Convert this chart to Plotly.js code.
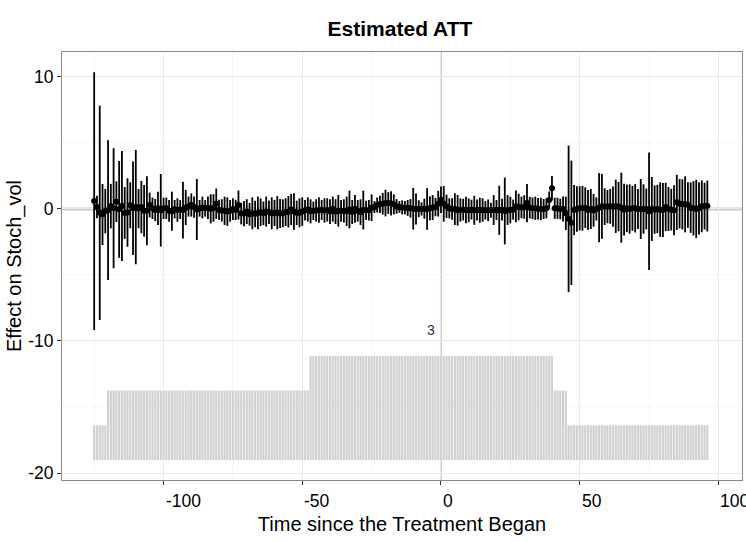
<!DOCTYPE html>
<html>
<head>
<meta charset="utf-8">
<script src="https://cdn.plot.ly/plotly-3.0.1.min.js"></script>
<style>html,body{margin:0;padding:0;background:#fff;}#chart{width:746px;height:542px;}</style>
</head>
<body>
<div id="chart"></div>
<script>
// Time since the treatment began
const time = [
 -125,-124,-123,-122,-121,-120,-119,-118,-117,-116,
 -115,-114,-113,-112,-111,-110,-109,-108,-107,-106,
 -105,-104,-103,-102,-101,-100,-99,-98,-97,-96,
 -95,-94,-93,-92,-91,-90,-89,-88,-87,-86,
 -85,-84,-83,-82,-81,-80,-79,-78,-77,-76,
 -75,-74,-73,-72,-71,-70,-69,-68,-67,-66,
 -65,-64,-63,-62,-61,-60,-59,-58,-57,-56,
 -55,-54,-53,-52,-51,-50,-49,-48,-47,-46,
 -45,-44,-43,-42,-41,-40,-39,-38,-37,-36,
 -35,-34,-33,-32,-31,-30,-29,-28,-27,-26,
 -25,-24,-23,-22,-21,-20,-19,-18,-17,-16,
 -15,-14,-13,-12,-11,-10,-9,-8,-7,-6,
 -5,-4,-3,-2,-1,0,1,2,3,4,
 5,6,7,8,9,10,11,12,13,14,
 15,16,17,18,19,20,21,22,23,24,
 25,26,27,28,29,30,31,32,33,34,
 35,36,37,38,39,40,41,42,43,44,
 45,46,47,48,49,50,51,52,53,54,
 55,56,57,58,59,60,61,62,63,64,
 65,66,67,68,69,70,71,72,73,74,
 75,76,77,78,79,80,81,82,83,84,
 85,86,87,88,89,90,91,92,93,94,
 95,96
];

// Estimated ATT (point estimates)
const att = [
 0.6, 0.15, -0.29, -0.42, -0.16, -0.09, 0.22, 0.06, 0.55, -0.03,
 0.23, -0.3, -0.27, 0.28, 0.06, 0.14, 0.03, 0.14, -0.14, -0.13,
 0.3, 0.05, -0.08, 0.05, -0.1, 0.05, 0.05, -0.14, -0.17, -0.02,
 -0.08, -0.04, -0.08, 0.12, 0.18, 0.3, 0.14, -0.04, 0.05, 0.11,
 0.05, 0.09, 0.01, 0.08, 0.4, -0.07, -0.11, -0.14, -0.2, -0.14,
 -0.01, -0.07, 0.3, -0.35, -0.35, -0.2, -0.4, -0.33, -0.38, -0.3,
 -0.24, -0.33, -0.2, -0.25, -0.33, -0.3, -0.28, -0.35, -0.33, -0.24,
 -0.21, -0.04, -0.2, -0.29, -0.29, -0.2, -0.1, -0.04, -0.18, -0.14,
 -0.11, -0.08, -0.07, -0.11, -0.07, -0.2, -0.01, -0.2, -0.14, -0.14,
 -0.15, -0.18, -0.04, -0.23, 0.01, -0.14, -0.24, -0.08, -0.1, -0.1,
 0.1, 0.15, 0.3, 0.35, 0.4, 0.45, 0.45, 0.42, 0.35, 0.2,
 0.15, 0.12, 0.1, 0.08, 0.05, 0.02, 0.0, 0.02, 0.0, 0.02,
 0.0, 0.05, 0.11, 0.15, 0.4, 0.7, 0.39, 0.2, 0.05, 0.0,
 -0.01, -0.1, -0.08, -0.05, -0.08, -0.1, -0.05, -0.1, -0.08, -0.1,
 -0.08, -0.1, -0.1, -0.1, -0.08, -0.08, -0.1, -0.05, -0.15, -0.08,
 -0.08, -0.05, 0.2, 0.15, 0.12, 0.15, 0.45, 0.1, 0.05, 0.05,
 0.02, 0.0, 0.0, 0.05, 0.68, 1.57, 0.05, 0.05, 0.0, 0.0,
 -0.33, -0.75, -1.05, -0.08, 0.0, 0.05, 0.05, 0.1, -0.08, 0.0,
 -0.1, 0.0, 0.1, 0.2, 0.18, 0.18, 0.2, 0.18, 0.2, 0.18,
 0.1, -0.05, 0.05, 0.0, 0.05, 0.05, 0.0, 0.0, 0.0, 0.0,
 -0.17, 0.0, -0.05, 0.0, -0.05, -0.08, 0.15, 0.0, -0.05, -0.1,
 0.5, 0.4, 0.35, 0.35, 0.3, 0.1, 0.05, 0.0, 0.05, 0.2,
 0.22, 0.22
];

// Half-width of the 95% confidence interval
const ciHalf = [
 9.76, 0.86, 8.12, 2.31, 1.68, 5.29, 1.68, 4.55, 1.54, 3.67,
 4.17, 1.96, 2.59, 1.74, 3.54, 4.33, 1.49, 1.98, 1.96, 2.61,
 0.94, 0.81, 0.84, 1.26, 2.75, 0.81, 0.81, 0.82, 1.48, 0.70,
 0.89, 0.72, 2.15, 1.33, 0.76, 0.88, 0.80, 2.31, 0.63, 0.82,
 0.63, 0.85, 1.10, 1.04, 1.15, 0.76, 0.85, 1.07, 1.08, 0.82,
 0.82, 0.76, 1.1, 0.82, 0.95, 0.94, 0.86, 1.21, 1.01, 1.24,
 1.05, 0.89, 1.14, 0.89, 1.21, 0.99, 1.26, 1.1, 1.06, 1.05,
 1.19, 1.18, 1.39, 0.92, 1.10, 1.08, 0.78, 0.92, 0.91, 0.70,
 0.85, 0.96, 0.76, 0.92, 0.88, 0.94, 0.95, 0.94, 1.2, 0.82,
 0.88, 1.11, 1.43, 0.91, 1.05, 0.82, 0.97, 1.47, 0.73, 0.78,
 1.01, 0.45, 0.57, 0.66, 0.82, 1.01, 0.82, 0.92, 0.76, 0.55,
 0.44, 0.53, 0.5, 0.6, 0.7, 1.58, 1.18, 0.64, 0.5, 0.76,
 1.58, 0.91, 0.95, 0.7, 0.97, 1.0, 1.35, 0.88, 0.76, 0.82,
 1.2, 1.16, 0.88, 0.82, 1.01, 0.9, 0.75, 1.1, 0.8, 0.95,
 0.89, 0.70, 0.82, 0.57, 1.13, 0.76, 1.86, 0.82, 2.53, 1.13,
 1.01, 0.76, 1.2, 1.01, 0.82, 0.89, 1.45, 0.82, 0.82, 0.88,
 0.82, 0.85, 0.76, 0.76, 0.65, 0.93, 0.8, 0.8, 0.78, 0.95,
 1.26, 5.55, 4.71, 1.9, 1.73, 1.67, 1.7, 1.54, 1.51, 1.52,
 1.24, 0.88, 2.62, 2.46, 1.39, 1.26, 1.32, 1.52, 2.02, 1.87,
 2.65, 1.96, 1.8, 1.87, 1.7, 1.83, 1.52, 2.27, 1.87, 1.55,
 4.45, 2.42, 1.83, 1.83, 2.06, 2.05, 1.83, 1.67, 1.58, 1.89,
 2.09, 1.87, 1.9, 2.12, 1.73, 1.91, 2.06, 2.21, 1.98, 1.96,
 1.77, 1.93
];

// Number of treated units observed at each relative period
const treatedCount = [
 1,1,1,1,1,2,2,2,2,2,
 2,2,2,2,2,2,2,2,2,2,
 2,2,2,2,2,2,2,2,2,2,
 2,2,2,2,2,2,2,2,2,2,
 2,2,2,2,2,2,2,2,2,2,
 2,2,2,2,2,2,2,2,2,2,
 2,2,2,2,2,2,2,2,2,2,
 2,2,2,2,2,2,2,2,3,3,
 3,3,3,3,3,3,3,3,3,3,
 3,3,3,3,3,3,3,3,3,3,
 3,3,3,3,3,3,3,3,3,3,
 3,3,3,3,3,3,3,3,3,3,
 3,3,3,3,3,3,3,3,3,3,
 3,3,3,3,3,3,3,3,3,3,
 3,3,3,3,3,3,3,3,3,3,
 3,3,3,3,3,3,3,3,3,3,
 3,3,3,3,3,3,2,2,2,2,
 2,1,1,1,1,1,1,1,1,1,
 1,1,1,1,1,1,1,1,1,1,
 1,1,1,1,1,1,1,1,1,1,
 1,1,1,1,1,1,1,1,1,1,
 1,1,1,1,1,1,1,1,1,1,
 1,1
];

const xTickVals = [-100, -50, 0, 50, 100];
const xTickText = ['-100', '-50', '0', '50', '100'];
const yTickVals = [-20, -10, 0, 10];
const yTickText = ['-20', '-10', '0', '10'];

const FONT = 'Liberation Sans, Arial, sans-serif';
const maxCount = Math.max(...treatedCount);

const traces = [
  {
    type: 'bar', x: time, y: treatedCount, yaxis: 'y2',
    marker: {color: '#d1d1d1', line: {width: 0}},
    hoverinfo: 'skip'
  },
  {
    type: 'scatter', mode: 'markers', x: time, y: att,
    error_y: {type: 'data', array: ciHalf, symmetric: true, width: 0, thickness: 1.8, color: '#000000'},
    marker: {color: '#000000', size: 6}
  }
];

const annotations = xTickVals.map((v, i) => ({
  x: v, xref: 'x', y: 0, yref: 'paper', yshift: -9,
  xanchor: 'left', yanchor: 'top', showarrow: false,
  text: xTickText[i], font: {family: FONT, size: 17.5, color: '#000'}
}));
annotations.push({
  x: -3.6, xref: 'x', y: -9.2, yref: 'y', showarrow: false,
  text: String(maxCount), font: {family: FONT, size: 14, color: '#333'}
});

const layout = {
  width: 746, height: 542,
  margin: {l: 62, r: 4, t: 52, b: 62},
  paper_bgcolor: '#ffffff', plot_bgcolor: '#ffffff',
  font: {family: FONT, color: '#000'},
  showlegend: false,
  bargap: 0.2,
  title: {
    text: 'Estimated ATT',
    font: {family: FONT, size: 21, weight: 'bold', color: '#000'},
    x: 0.497, xref: 'paper', xanchor: 'center',
    y: 1 - 29 / 542, yref: 'container', yanchor: 'middle'
  },
  xaxis: {
    range: [-136.6, 108.5], tickvals: xTickVals, showticklabels: false,
    ticks: 'outside', ticklen: 4, tickcolor: '#333', tickwidth: 1,
    showgrid: true, gridcolor: '#ebebeb', gridwidth: 1,
    minor: {tickvals: [-125, -75, -25, 25, 75], showgrid: true, gridcolor: '#f3f3f3', gridwidth: 0.7, ticks: ''},
    zeroline: false, showline: true, mirror: true, linecolor: '#8a8a8a', linewidth: 1,
    title: {text: 'Time since the Treatment Began', font: {family: FONT, size: 20, color: '#000'}, standoff: 32}
  },
  yaxis: {
    range: [-20.53, 11.89], tickvals: yTickVals, ticktext: yTickText,
    tickfont: {family: FONT, size: 17.5, color: '#000'},
    ticks: 'outside', ticklen: 4, tickcolor: '#333', tickwidth: 1,
    showgrid: true, gridcolor: '#ebebeb', gridwidth: 1,
    minor: {tickvals: [-15, -5, 5], showgrid: true, gridcolor: '#f3f3f3', gridwidth: 0.7, ticks: ''},
    zeroline: false, showline: true, mirror: true, linecolor: '#8a8a8a', linewidth: 1,
    title: {text: 'Effect on Stoch_vol', font: {family: FONT, size: 20, color: '#000'}, standoff: 1}
  },
  yaxis2: {overlaying: 'y', range: [-0.574, 11.75], visible: false, showgrid: false, zeroline: false},
  shapes: [
    {type: 'line', xref: 'paper', x0: 0, x1: 1, yref: 'y', y0: 0, y1: 0, layer: 'below', line: {color: '#cccccc', width: 3}},
    {type: 'line', xref: 'x', x0: 0, x1: 0, yref: 'paper', y0: 0, y1: 1, layer: 'below', line: {color: '#cccccc', width: 2}}
  ],
  annotations: annotations
};

Plotly.newPlot('chart', traces, layout, {displayModeBar: false, staticPlot: true});
</script>
</body>
</html>
